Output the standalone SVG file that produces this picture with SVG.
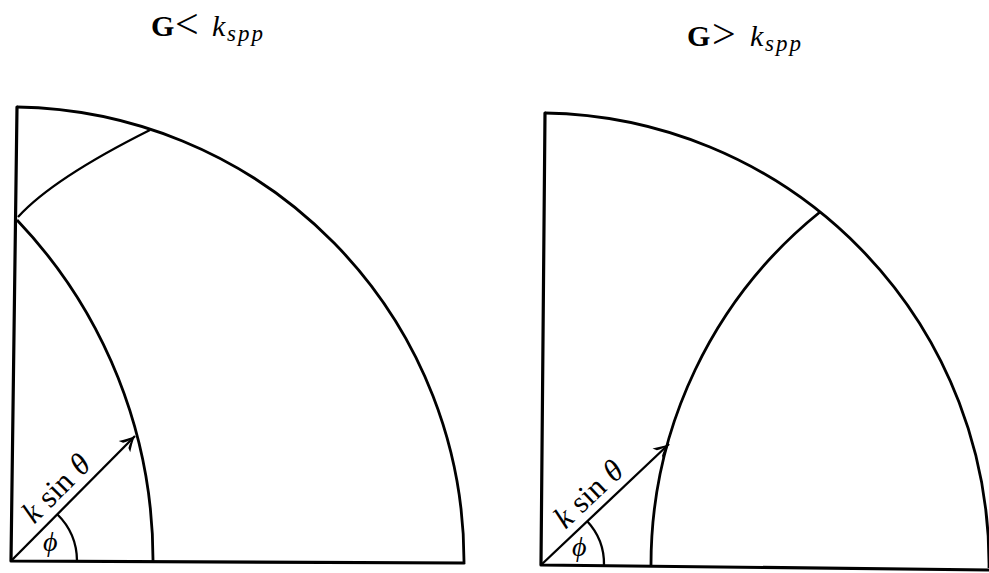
<svg xmlns="http://www.w3.org/2000/svg" width="989" height="573" viewBox="0 0 989 573">
<style>
.ax{fill:none;stroke:#000;stroke-width:3.2;stroke-linecap:round;stroke-linejoin:round}
.arc{fill:none;stroke:#000;stroke-width:2.8}
.thin{fill:none;stroke:#000;stroke-width:2.3}
.ar{fill:none;stroke:#000;stroke-width:2.3}
.t{font-family:"Liberation Serif","DejaVu Serif",serif;fill:#000}
.i{font-style:italic}
.b{font-weight:bold}
</style>
<defs>
<marker id="ah" markerUnits="userSpaceOnUse" markerWidth="20" markerHeight="20" refX="0" refY="0" viewBox="-14 -8 16 16" orient="auto">
<path d="M0,0 C-4,-1.5 -8,-4 -12,-6.5 L-10.5,-3 C-8,-1.5 -5,-0.5 -3,0 C-5,0.5 -8,1.5 -10.5,3 L-12,6.5 C-8,4 -4,1.5 0,0 Z" fill="#000"/>
</marker>
</defs>
<g id="title-left">
<text class="t" y="36" font-size="30"><tspan class="b" x="151">G</tspan><tspan font-size="42" x="175" dy="2">&lt;</tspan><tspan class="i" x="212" dy="-2">k</tspan><tspan class="i" font-size="23" letter-spacing="2" x="227" dy="5">spp</tspan></text>
</g>
<g id="title-right">
<text class="t" y="46" font-size="30"><tspan class="b" x="687">G</tspan><tspan font-size="42" x="712" dy="2">&gt;</tspan><tspan class="i" x="750" dy="-2">k</tspan><tspan class="i" font-size="23" letter-spacing="2" x="765" dy="5">spp</tspan></text>
</g>
<g id="left-figure">
<path class="ax" d="M17,107 L11,561 L464,563"/>
<path class="arc" d="M17,107 A454,454 0 0 1 464,562"/>
<path class="arc" d="M153,562 A493,493 0 0 0 17,220"/>
<path class="thin" d="M18,217 Q53,178.5 150,130"/>
<path class="thin" d="M77,561 A66,66 0 0 0 57,514"/>
</g>
<g id="right-figure">
<path class="ax" d="M545,113 L541,565 L989,570"/>
<path class="arc" d="M545,113 A451,451 0 0 1 989,568"/>
<path class="arc" d="M651,566 A453,453 0 0 1 820,212"/>
<path class="thin" d="M604,565 A63,63 0 0 0 587,521"/>
</g>
<g id="connectors">
<line class="ar" x1="11" y1="561" x2="135" y2="436" marker-end="url(#ah)"/>
<line class="ar" x1="541" y1="565" x2="669" y2="444" marker-end="url(#ah)"/>
</g>
<g id="labels">
<text class="t" font-size="31" word-spacing="1" transform="translate(11,561) rotate(-45.2) translate(42,-9)"><tspan class="i">k</tspan> sin <tspan class="i">θ</tspan></text>
<text class="t i" font-size="28" x="43" y="551">ϕ</text>
<text class="t" font-size="31" word-spacing="1" transform="translate(541,565) rotate(-43.3) translate(42,-9)"><tspan class="i">k</tspan> sin <tspan class="i">θ</tspan></text>
<text class="t i" font-size="28" x="572" y="556">ϕ</text>
</g>
</svg>
